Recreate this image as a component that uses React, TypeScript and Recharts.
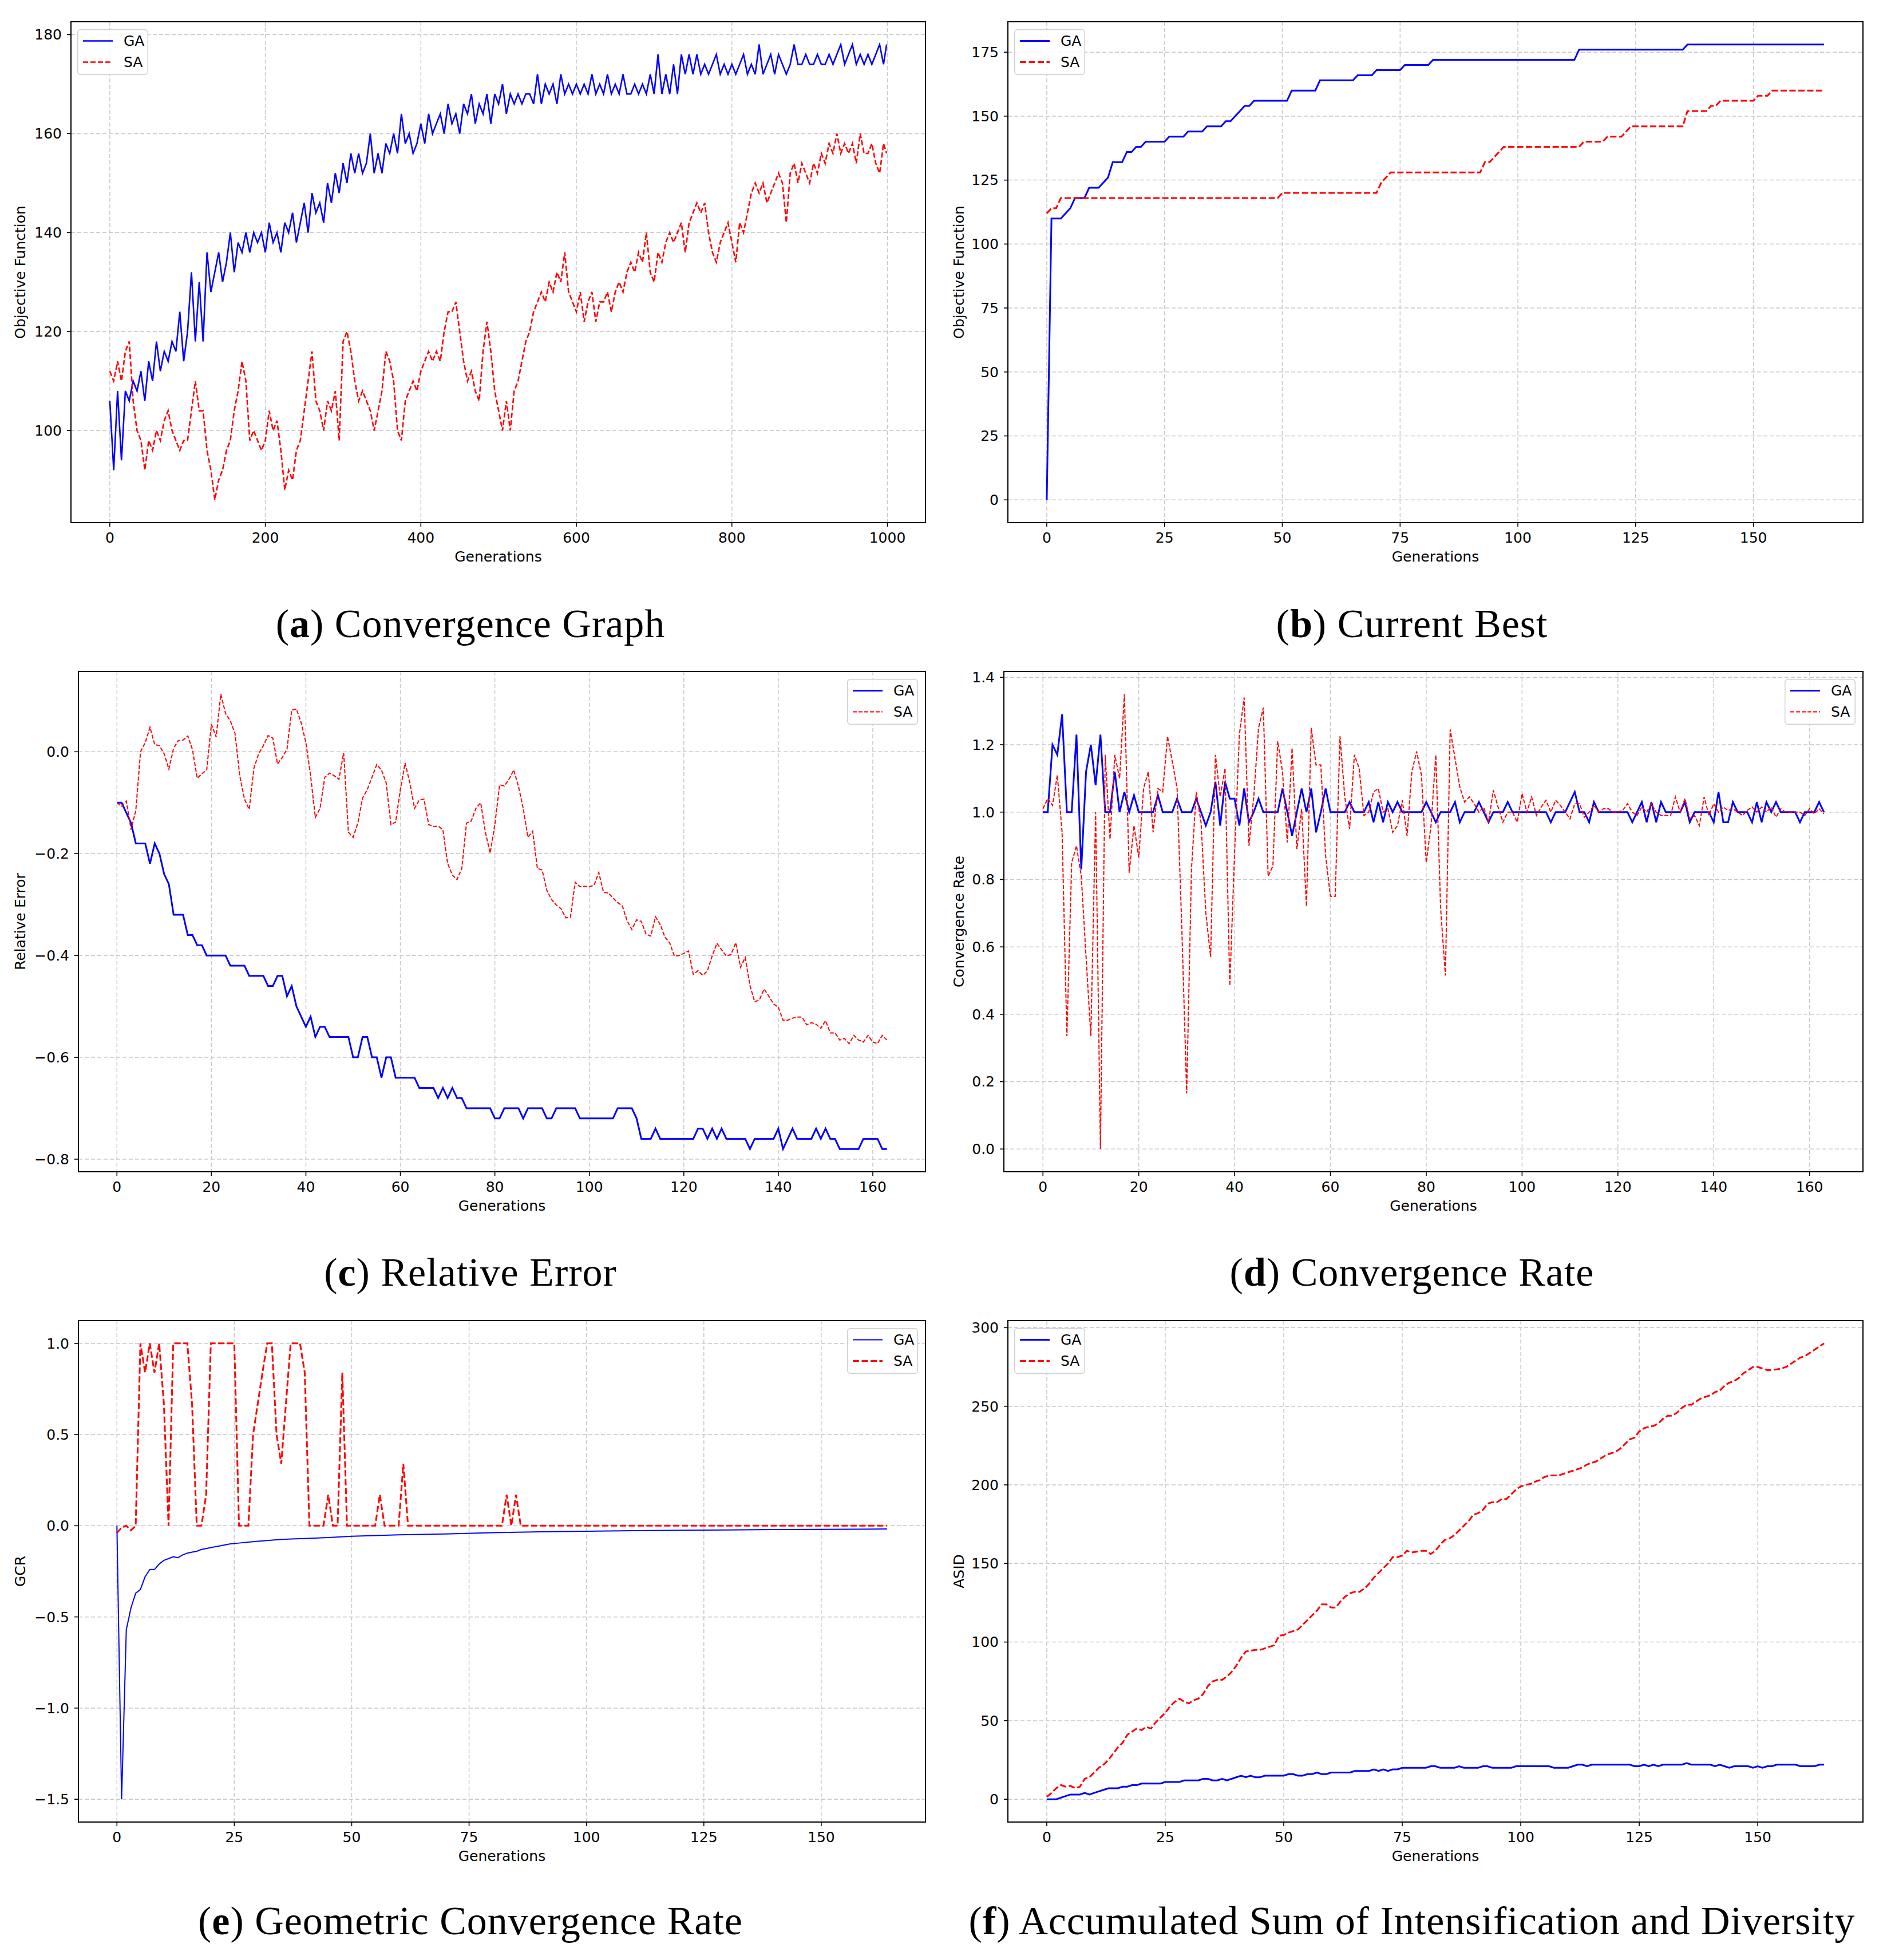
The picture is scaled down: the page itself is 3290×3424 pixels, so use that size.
import { CartesianGrid, Line, LineChart, ReferenceArea, XAxis, YAxis } from 'recharts';

// ---------- data ----------

// (a) Convergence graph, sampled every 5 generations (last point is gen 999)
const A_GENS = Array.from({ length: 200 }, (_, i) => i * 5).concat(999);
const A_GA = [
  106, 92, 108, 94, 108, 106, 110, 108, 112, 106,
  114, 110, 118, 112, 116, 114, 118, 116, 124, 114,
  120, 132, 118, 130, 118, 136, 128, 132, 136, 130,
  134, 140, 132, 138, 136, 140, 136, 140, 138, 140,
  136, 142, 138, 140, 136, 142, 140, 144, 138, 142,
  146, 140, 148, 144, 146, 142, 150, 146, 152, 148,
  154, 150, 156, 152, 156, 152, 154, 160, 152, 156,
  152, 158, 156, 160, 156, 164, 158, 160, 156, 158,
  162, 158, 164, 160, 162, 164, 160, 166, 162, 164,
  160, 166, 164, 168, 162, 166, 164, 168, 162, 168,
  166, 170, 164, 168, 166, 168, 166, 168, 168, 166,
  172, 166, 170, 168, 170, 166, 172, 168, 170, 168,
  170, 168, 170, 168, 172, 168, 170, 168, 172, 168,
  170, 168, 172, 168, 168, 170, 168, 170, 168, 172,
  168, 176, 168, 172, 168, 174, 168, 176, 172, 176,
  172, 176, 172, 174, 172, 174, 176, 172, 174, 172,
  174, 172, 174, 176, 172, 174, 172, 178, 172, 174,
  176, 172, 176, 174, 172, 174, 178, 174, 174, 176,
  174, 174, 176, 174, 174, 176, 174, 176, 178, 174,
  176, 178, 174, 176, 174, 176, 174, 176, 178, 174,
  178,
];
const A_SA = [
  112, 110, 114, 110, 116, 118, 106, 100, 98, 92,
  98, 96, 100, 98, 102, 104, 100, 98, 96, 98,
  98, 104, 110, 104, 104, 96, 92, 86, 90, 92,
  96, 98, 104, 108, 114, 110, 98, 100, 98, 96,
  98, 104, 100, 102, 96, 88, 92, 90, 96, 98,
  104, 110, 116, 106, 104, 100, 106, 104, 108, 98,
  118, 120, 116, 110, 106, 108, 106, 104, 100, 104,
  108, 116, 114, 110, 100, 98, 106, 108, 110, 108,
  112, 114, 116, 114, 116, 114, 120, 124, 124, 126,
  120, 114, 110, 112, 108, 106, 116, 122, 116, 108,
  104, 100, 106, 100, 108, 110, 114, 118, 120, 124,
  126, 128, 126, 130, 128, 132, 130, 136, 128, 126,
  124, 128, 122, 126, 128, 122, 126, 126, 128, 124,
  128, 130, 128, 132, 134, 132, 136, 134, 140, 132,
  130, 136, 134, 138, 140, 138, 140, 142, 136, 142,
  144, 146, 144, 146, 140, 136, 134, 138, 140, 142,
  138, 134, 142, 140, 144, 148, 150, 148, 150, 146,
  148, 150, 152, 150, 142, 152, 154, 150, 154, 152,
  150, 154, 152, 156, 154, 158, 156, 160, 156, 158,
  156, 158, 154, 160, 156, 156, 158, 154, 152, 158,
  156,
];

// (b) Current best: generations where the curve changes, and its values there
const B_GA_GENS = [0, 1, 3, 5, 6, 8, 9, 11, 13, 14, 16, 17, 18, 19, 20, 21, 25, 26, 29, 30, 33, 34, 37, 38, 39, 41, 42, 43, 44, 51, 52, 57, 58, 65, 66, 69, 70, 75, 76, 81, 82, 112, 113, 135, 136, 165];
const B_GA = [0, 110, 110, 114, 118, 118, 122, 122, 126, 132, 132, 136, 136, 138, 138, 140, 140, 142, 142, 144, 144, 146, 146, 148, 148, 152, 154, 154, 156, 156, 160, 160, 164, 164, 166, 166, 168, 168, 170, 170, 172, 172, 176, 176, 178, 178];
const B_SA_GENS = [0, 1, 2, 3, 49, 50, 70, 71, 72, 73, 92, 93, 94, 95, 96, 97, 113, 114, 118, 119, 122, 123, 124, 135, 136, 140, 141, 142, 143, 150, 151, 153, 154, 165];
const B_SA = [112, 114, 114, 118, 118, 120, 120, 124, 126, 128, 128, 132, 132, 134, 136, 138, 138, 140, 140, 142, 142, 144, 146, 146, 152, 152, 154, 154, 156, 156, 158, 158, 160, 160];

// (c) Relative error, one value per generation
const C_GA = [
  -0.1, -0.1, -0.12, -0.14, -0.18, -0.18, -0.18, -0.22, -0.18, -0.2,
  -0.24, -0.26, -0.32, -0.32, -0.32, -0.36, -0.36, -0.38, -0.38, -0.4,
  -0.4, -0.4, -0.4, -0.4, -0.42, -0.42, -0.42, -0.42, -0.44, -0.44,
  -0.44, -0.44, -0.46, -0.46, -0.44, -0.44, -0.48, -0.46, -0.5, -0.52,
  -0.54, -0.52, -0.56, -0.54, -0.54, -0.56, -0.56, -0.56, -0.56, -0.56,
  -0.6, -0.6, -0.56, -0.56, -0.6, -0.6, -0.64, -0.6, -0.6, -0.64,
  -0.64, -0.64, -0.64, -0.64, -0.66, -0.66, -0.66, -0.66, -0.68, -0.66,
  -0.68, -0.66, -0.68, -0.68, -0.7, -0.7, -0.7, -0.7, -0.7, -0.7,
  -0.72, -0.72, -0.7, -0.7, -0.7, -0.7, -0.72, -0.7, -0.7, -0.7,
  -0.7, -0.72, -0.72, -0.7, -0.7, -0.7, -0.7, -0.7, -0.72, -0.72,
  -0.72, -0.72, -0.72, -0.72, -0.72, -0.72, -0.7, -0.7, -0.7, -0.7,
  -0.72, -0.76, -0.76, -0.76, -0.74, -0.76, -0.76, -0.76, -0.76, -0.76,
  -0.76, -0.76, -0.76, -0.74, -0.74, -0.76, -0.74, -0.76, -0.74, -0.76,
  -0.76, -0.76, -0.76, -0.76, -0.78, -0.76, -0.76, -0.76, -0.76, -0.76,
  -0.74, -0.78, -0.76, -0.74, -0.76, -0.76, -0.76, -0.76, -0.74, -0.76,
  -0.74, -0.76, -0.76, -0.78, -0.78, -0.78, -0.78, -0.78, -0.76, -0.76,
  -0.76, -0.76, -0.78, -0.78,
];
const C_SA = [
  -0.1, -0.107, -0.097, -0.153, -0.115, 0.0, 0.018, 0.048, 0.014, 0.012,
  -0.004, -0.034, 0.007, 0.022, 0.023, 0.031, 0.004, -0.052, -0.043, -0.036,
  0.054, 0.029, 0.113, 0.075, 0.061, 0.036, -0.047, -0.093, -0.113, -0.032,
  -0.004, 0.012, 0.032, 0.027, -0.024, -0.011, 0.005, 0.082, 0.084, 0.057,
  0.018, -0.047, -0.129, -0.111, -0.05, -0.042, -0.047, -0.054, -0.002, -0.158,
  -0.168, -0.14, -0.091, -0.074, -0.05, -0.025, -0.036, -0.061, -0.143, -0.138,
  -0.074, -0.022, -0.061, -0.111, -0.095, -0.093, -0.143, -0.147, -0.146, -0.153,
  -0.219, -0.242, -0.251, -0.229, -0.14, -0.136, -0.111, -0.1, -0.158, -0.199,
  -0.143, -0.065, -0.067, -0.054, -0.036, -0.068, -0.111, -0.168, -0.156, -0.229,
  -0.232, -0.272, -0.29, -0.301, -0.308, -0.326, -0.325, -0.256, -0.265, -0.264,
  -0.265, -0.262, -0.237, -0.276, -0.277, -0.287, -0.296, -0.303, -0.332, -0.349,
  -0.33, -0.333, -0.358, -0.362, -0.324, -0.339, -0.364, -0.375, -0.401, -0.4,
  -0.396, -0.391, -0.437, -0.43, -0.439, -0.43, -0.401, -0.376, -0.389, -0.401,
  -0.398, -0.375, -0.423, -0.404, -0.459, -0.491, -0.487, -0.466, -0.48, -0.495,
  -0.502, -0.527, -0.527, -0.523, -0.521, -0.521, -0.536, -0.532, -0.535, -0.543,
  -0.528, -0.552, -0.552, -0.566, -0.563, -0.573, -0.557, -0.566, -0.57, -0.557,
  -0.57, -0.573, -0.557, -0.566,
];

// (d) Convergence rate, one value per generation
const D_GA = [
  1.0, 1.0, 1.2, 1.17, 1.29, 1.0, 1.0, 1.23, 0.83, 1.12,
  1.2, 1.08, 1.23, 1.0, 1.0, 1.12, 1.0, 1.06, 1.0, 1.05,
  1.0, 1.0, 1.0, 1.0, 1.05, 1.0, 1.0, 1.0, 1.04, 1.0,
  1.0, 1.0, 1.04, 1.0, 0.96, 1.0, 1.09, 0.96, 1.09, 1.04,
  1.04, 0.96, 1.07, 0.97, 1.0, 1.04, 1.0, 1.0, 1.0, 1.0,
  1.07, 1.0, 0.93, 1.0, 1.07, 1.0, 1.07, 0.94, 1.0, 1.07,
  1.0, 1.0, 1.0, 1.0, 1.03, 1.0, 1.0, 1.0, 1.03, 0.97,
  1.03, 0.97, 1.03, 1.0, 1.03, 1.0, 1.0, 1.0, 1.0, 1.0,
  1.03, 1.0, 0.97, 1.0, 1.0, 1.0, 1.03, 0.97, 1.0, 1.0,
  1.0, 1.03, 1.0, 0.97, 1.0, 1.0, 1.0, 1.03, 1.0, 1.0,
  1.0, 1.0, 1.0, 1.0, 1.0, 1.0, 0.97, 1.0, 1.0, 1.0,
  1.03, 1.06, 1.0, 1.0, 0.97, 1.03, 1.0, 1.0, 1.0, 1.0,
  1.0, 1.0, 1.0, 0.97, 1.0, 1.03, 0.97, 1.03, 0.97, 1.03,
  1.0, 1.0, 1.0, 1.0, 1.03, 0.97, 1.0, 1.0, 1.0, 1.0,
  0.97, 1.06, 0.97, 0.97, 1.03, 1.0, 1.0, 1.0, 0.97, 1.03,
  0.97, 1.03, 1.0, 1.03, 1.0, 1.0, 1.0, 1.0, 0.97, 1.0,
  1.0, 1.0, 1.03, 1.0,
];
const D_SA = [
  1.01, 1.04, 1.02, 1.11, 0.94, 0.335, 0.85, 0.9, 0.81, 0.57,
  0.335, 1.0, 0.0, 1.17, 0.92, 1.17, 1.1, 1.35, 0.82, 0.96,
  0.865, 1.07, 1.12, 0.94, 1.07, 1.06, 1.225, 1.15, 1.07, 0.65,
  0.165, 0.83, 1.06, 0.97, 0.7, 0.57, 1.17, 1.045, 1.13, 0.485,
  0.88, 1.23, 1.34, 0.9, 1.045, 1.25, 1.31, 0.81, 0.84, 1.21,
  1.12, 0.91, 1.19, 0.89, 1.01, 0.72, 1.25, 1.14, 1.14, 0.87,
  0.75, 0.75, 1.225, 1.045, 0.95, 1.17, 1.13, 0.99, 1.0, 1.06,
  1.07, 1.0, 1.01, 0.94, 0.96, 1.035, 0.93, 1.12, 1.18, 1.11,
  0.85, 0.96, 1.17, 0.715, 0.515, 1.245, 1.16, 1.075, 1.03, 1.045,
  1.025, 1.0, 1.015, 0.97, 1.065, 1.015, 0.97, 1.0, 1.0, 0.97,
  1.055, 1.0, 1.045, 0.99, 1.015, 1.035, 1.0, 1.035, 1.02, 1.0,
  0.98, 1.025, 1.025, 0.985, 1.0, 1.02, 1.0, 1.01, 1.01, 1.0,
  1.0, 1.005, 1.025, 1.0, 0.99, 1.015, 1.0, 1.025, 1.0, 0.99,
  0.99, 0.99, 1.045, 1.0, 1.04, 0.98, 0.99, 0.96, 1.045, 0.99,
  1.025, 1.0, 1.015, 1.005, 1.01, 1.0, 0.99, 1.005, 1.015, 1.0,
  1.015, 1.0, 1.015, 0.985, 1.01, 1.0, 1.0, 1.0, 1.0, 0.99,
  1.01, 0.995, 1.01, 0.995,
];

// (e) Geometric convergence rate
const E_GA_GENS = [0, 1, 2, 3, 4, 5, 6, 7, 8, 9, 10, 11, 12, 13, 14, 15, 16, 17, 18, 19, 20, 22, 24, 26, 28, 30, 35, 40, 45, 50, 60, 70, 80, 90, 100, 110, 120, 130, 140, 150, 164];
const E_GA = [0, -1.5, -0.57, -0.45, -0.37, -0.35, -0.28, -0.24, -0.24, -0.21, -0.19, -0.18, -0.17, -0.175, -0.16, -0.15, -0.145, -0.14, -0.13, -0.125, -0.12, -0.11, -0.1, -0.095, -0.09, -0.085, -0.075, -0.07, -0.065, -0.058, -0.05, -0.045, -0.038, -0.033, -0.03, -0.027, -0.025, -0.023, -0.021, -0.02, -0.018];
// SA: one value per generation up to 89, then it stays at 0 until the last generation
const E_SA = [
  -0.04, -0.01, 0.0, -0.025, 0.0, 1.0, 0.84, 1.0, 0.84, 1.0,
  0.67, 0.0, 1.0, 1.0, 1.0, 1.0, 0.67, 0.0, 0.0, 0.17,
  1.0, 1.0, 1.0, 1.0, 1.0, 1.0, 0.0, 0.0, 0.0, 0.5,
  0.67, 0.84, 1.0, 1.0, 0.5, 0.34, 0.67, 1.0, 1.0, 1.0,
  0.84, 0.0, 0.0, 0.0, 0.0, 0.17, 0.0, 0.0, 0.84, 0.0,
  0.0, 0.0, 0.0, 0.0, 0.0, 0.0, 0.17, 0.0, 0.0, 0.0,
  0.0, 0.34, 0.0, 0.0, 0.0, 0.0, 0.0, 0.0, 0.0, 0.0,
  0.0, 0.0, 0.0, 0.0, 0.0, 0.0, 0.0, 0.0, 0.0, 0.0,
  0.0, 0.0, 0.0, 0.17, 0.0, 0.17, 0.0, 0.0, 0.0, 0.0,
];
const E_SA_LAST_GEN = 164;
const E_SA_LAST = 0.0;

// (f) Accumulated sum of intensification and diversity, one value per generation
const F_GA = [
  0, 0, 0, 1, 2, 3, 3, 3, 4, 3,
  4, 5, 6, 7, 7, 7, 8, 8, 9, 9,
  10, 10, 10, 10, 10, 11, 11, 11, 11, 12,
  12, 12, 12, 13, 13, 12, 12, 13, 12, 13,
  14, 15, 14, 15, 14, 14, 15, 15, 15, 15,
  15, 16, 16, 15, 15, 16, 16, 17, 16, 16,
  17, 17, 17, 17, 17, 18, 18, 18, 18, 19,
  18, 19, 18, 19, 19, 20, 20, 20, 20, 20,
  20, 21, 21, 20, 20, 20, 20, 21, 20, 20,
  20, 20, 21, 21, 20, 20, 20, 20, 20, 21,
  21, 21, 21, 21, 21, 21, 21, 20, 20, 20,
  20, 21, 22, 22, 21, 22, 22, 22, 22, 22,
  22, 22, 22, 22, 21, 21, 22, 21, 22, 21,
  22, 22, 22, 22, 22, 23, 22, 22, 22, 22,
  22, 21, 22, 21, 20, 21, 21, 21, 21, 20,
  21, 20, 21, 21, 22, 22, 22, 22, 22, 21,
  21, 21, 21, 22, 22,
];
const F_SA = [
  1.5, 4, 7, 9, 8, 8.5, 7, 8, 13, 14,
  17, 20, 22, 25, 29, 33, 36, 41, 43, 45,
  44, 46, 45, 49, 52, 55, 59, 62, 64, 62,
  61, 63, 64, 67, 72, 75, 76, 76, 78, 81,
  85, 90, 94, 94.5, 95, 95, 96, 97, 98, 104,
  104.5, 106, 107, 108, 111, 114, 117, 120, 124, 124,
  122, 122, 126, 129, 131, 132, 132, 134, 137, 141,
  144, 147, 150, 154, 154, 155, 158, 157, 157.5, 158,
  158, 156, 158, 162, 165, 166, 168, 171, 174, 177,
  181, 182, 184, 188, 189, 189, 191, 191, 194, 197,
  199, 200, 200.5, 202, 203, 205, 206, 206, 206, 207,
  208, 209, 210, 211, 213, 214, 215, 217, 219, 220,
  221, 223, 226, 229, 230, 234, 236, 237, 237.5, 239,
  242, 244, 244, 246, 249, 251, 251, 253, 255, 256,
  257, 259, 260, 263, 265, 266, 268, 271, 273, 275,
  275, 274, 273, 273, 273.5, 274, 275, 277, 279, 281,
  282, 284, 286, 288, 290,
];

// tick labels
const A_XTICKS = [0, 200, 400, 600, 800, 1000];
const A_YTICKS = [100, 120, 140, 160, 180];
const B_XTICKS = [0, 25, 50, 75, 100, 125, 150];
const B_YTICKS = [0, 25, 50, 75, 100, 125, 150, 175];
const C_XTICKS = [0, 20, 40, 60, 80, 100, 120, 140, 160];
const C_YTICKS = [-0.8, -0.6, -0.4, -0.2, 0.0];
const D_YTICKS = [0.0, 0.2, 0.4, 0.6, 0.8, 1.0, 1.2, 1.4];
const E_YTICKS = [-1.5, -1.0, -0.5, 0.0, 0.5, 1.0];
const F_YTICKS = [0, 50, 100, 150, 200, 250, 300];

// ---------- helpers ----------

type Row = { x: number; y: number };

function rows(gens: number[], values: number[]): Row[] {
  return gens.map((x, i) => ({ x, y: values[i] }));
}

function byGeneration(values: number[]): Row[] {
  return values.map((y, x) => ({ x, y }));
}

const intLabel = (v: number) => String(Math.round(v)).replace('-', '\u2212');
const oneDecimal = (v: number) => {
  const s = (Math.abs(v) < 1e-9 ? 0 : v).toFixed(1);
  return s.replace('-', '\u2212');
};

const FONT = "'DejaVu Sans', sans-serif";
const GRID = '#c8c8c8';

type Series = {
  name: string;
  data: Row[];
  color: string;
  width: number;
  dash?: string;
};

type PanelProps = {
  colLeft: number;
  left: number;
  right: number;
  top: number;
  bottom: number;
  xDomain: [number, number];
  yDomain: [number, number];
  xTicks: number[];
  yTicks: number[];
  yFormat: (v: number) => string;
  yLabel: string;
  series: Series[];
  legendSide: 'left' | 'right';
};

function LegendBox({ series }: { series: Series[] }) {
  return (
    <svg width={124} height={80} style={{ display: 'block' }}>
      <rect x={0.75} y={0.75} width={122.5} height={78.5} rx={5} fill="rgba(255,255,255,0.85)" stroke="#d0d0d0" strokeWidth={1.5} />
      {series.map((s, i) => {
        const cy = 20.5 + i * 37;
        return (
          <g key={s.name}>
            <line x1={10} x2={62} y1={cy} y2={cy} stroke={s.color} strokeWidth={s.width} strokeDasharray={s.dash} />
            <text x={81} y={cy} dominantBaseline="central" fontSize={25} fontFamily={FONT} fill="#000">
              {s.name}
            </text>
          </g>
        );
      })}
    </svg>
  );
}

function Panel(p: PanelProps) {
  const mt = 20;
  const mr = 20;
  const xh = 100;
  const yw = p.left - p.colLeft;
  const width = p.right - p.colLeft + mr;
  const height = p.bottom - p.top + mt + xh;
  const tick = { fontSize: 25, fill: '#000', fontFamily: FONT };

  return (
    <div style={{ position: 'absolute', left: p.colLeft, top: p.top - mt, width, height }}>
      <LineChart width={width} height={height} margin={{ top: mt, right: mr, bottom: 0, left: 0 }}>
        <CartesianGrid stroke={GRID} strokeWidth={1.5} strokeDasharray="7 4" />
        <XAxis
          type="number"
          dataKey="x"
          domain={p.xDomain}
          ticks={p.xTicks}
          allowDataOverflow
          interval={0}
          height={xh}
          tickSize={7}
          tickMargin={10}
          tick={tick}
          tickFormatter={intLabel}
          axisLine={false}
          tickLine={{ stroke: '#000', strokeWidth: 1.6 }}
          label={{ value: 'Generations', position: 'insideBottom', offset: 32, fill: '#000', fontSize: 25, fontFamily: FONT }}
        />
        <YAxis
          type="number"
          domain={p.yDomain}
          ticks={p.yTicks}
          allowDataOverflow
          interval={0}
          width={yw}
          tickSize={7}
          tickMargin={9}
          tick={tick}
          tickFormatter={p.yFormat}
          axisLine={false}
          tickLine={{ stroke: '#000', strokeWidth: 1.6 }}
          label={{
            value: p.yLabel,
            angle: -90,
            position: 'insideLeft',
            offset: 35,
            fill: '#000',
            fontSize: 25,
            fontFamily: FONT,
            style: { textAnchor: 'middle' },
          }}
        />
        {p.series.map((s) => (
          <Line
            key={s.name}
            data={s.data}
            dataKey="y"
            name={s.name}
            type="linear"
            stroke={s.color}
            strokeWidth={s.width}
            strokeDasharray={s.dash}
            dot={false}
            activeDot={false}
            isAnimationActive={false}
          />
        ))}
        <ReferenceArea
          x1={p.xDomain[0]}
          x2={p.xDomain[1]}
          y1={p.yDomain[0]}
          y2={p.yDomain[1]}
          fill="none"
          fillOpacity={0}
          stroke="#000"
          strokeWidth={2}
        />
      </LineChart>
      <div
        style={
          p.legendSide === 'left'
            ? { position: 'absolute', left: yw + 11, top: mt + 13 }
            : { position: 'absolute', right: mr + 13, top: mt + 13 }
        }
      >
        <LegendBox series={p.series} />
      </div>
    </div>
  );
}

function Caption({ letter, text, center, baseline }: { letter: string; text: string; center: number; baseline: number }) {
  const size = 70;
  return (
    <div
      style={{
        position: 'absolute',
        left: center - 900,
        width: 1800,
        top: baseline - Math.round(size * 0.8375),
        textAlign: 'center',
        fontFamily: "'Liberation Serif', 'DejaVu Serif', serif",
        fontSize: size,
        letterSpacing: 1,
        lineHeight: 1,
        color: '#000',
        whiteSpace: 'nowrap',
      }}
    >
      (<b>{letter}</b>) {text}
    </div>
  );
}

const BLUE = '#0000ff';
const RED = '#ff0000';

export default function App() {
  const ga = (data: Row[], width: number): Series => ({ name: 'GA', data, color: BLUE, width });
  const sa = (data: Row[], width: number, dash: string): Series => ({ name: 'SA', data, color: RED, width, dash });

  return (
    <div style={{ position: 'absolute', left: 0, top: 0, width: 3290, height: 3424, background: '#fff', overflow: 'hidden' }}>
      <style>{'body{margin:0}'}</style>

      <Panel
        colLeft={0}
        left={124}
        right={1617}
        top={38}
        bottom={913}
        xDomain={[-49.95, 1048.95]}
        yDomain={[81.4, 182.6]}
        xTicks={A_XTICKS}
        yTicks={A_YTICKS}
        yFormat={intLabel}
        yLabel="Objective Function"
        series={[ga(rows(A_GENS, A_GA), 2.6), sa(rows(A_GENS, A_SA), 2.6, '9 4')]}
        legendSide="left"
      />
      <Panel
        colLeft={1640}
        left={1761}
        right={3255}
        top={38}
        bottom={913}
        xDomain={[-8.25, 173.25]}
        yDomain={[-8.9, 186.9]}
        xTicks={B_XTICKS}
        yTicks={B_YTICKS}
        yFormat={intLabel}
        yLabel="Objective Function"
        series={[ga(rows(B_GA_GENS, B_GA), 3), sa(rows(B_SA_GENS, B_SA), 3, '11 4.5')]}
        legendSide="left"
      />
      <Panel
        colLeft={0}
        left={137}
        right={1617}
        top={1173}
        bottom={2047}
        xDomain={[-8.15, 171.15]}
        yDomain={[-0.8247, 0.1577]}
        xTicks={C_XTICKS}
        yTicks={C_YTICKS}
        yFormat={oneDecimal}
        yLabel="Relative Error"
        series={[ga(byGeneration(C_GA), 3), sa(byGeneration(C_SA), 2, '7 3')]}
        legendSide="right"
      />
      <Panel
        colLeft={1640}
        left={1754}
        right={3255}
        top={1173}
        bottom={2047}
        xDomain={[-8.15, 171.15]}
        yDomain={[-0.0675, 1.4175]}
        xTicks={C_XTICKS}
        yTicks={D_YTICKS}
        yFormat={oneDecimal}
        yLabel="Convergence Rate"
        series={[ga(byGeneration(D_GA), 3), sa(byGeneration(D_SA), 2, '7 3')]}
        legendSide="right"
      />
      <Panel
        colLeft={0}
        left={137}
        right={1617}
        top={2307}
        bottom={3183}
        xDomain={[-8.2, 172.2]}
        yDomain={[-1.625, 1.125]}
        xTicks={B_XTICKS}
        yTicks={E_YTICKS}
        yFormat={oneDecimal}
        yLabel="GCR"
        series={[
          ga(rows(E_GA_GENS, E_GA), 2),
          sa(byGeneration(E_SA).concat([{ x: E_SA_LAST_GEN, y: E_SA_LAST }]), 3, '11 4.5'),
        ]}
        legendSide="right"
      />
      <Panel
        colLeft={1640}
        left={1761}
        right={3255}
        top={2307}
        bottom={3183}
        xDomain={[-8.2, 172.2]}
        yDomain={[-14.5, 304.5]}
        xTicks={B_XTICKS}
        yTicks={F_YTICKS}
        yFormat={intLabel}
        yLabel="ASID"
        series={[ga(byGeneration(F_GA), 3), sa(byGeneration(F_SA), 3, '11 4.5')]}
        legendSide="left"
      />

      <Caption letter="a" text="Convergence Graph" center={822} baseline={1114} />
      <Caption letter="b" text="Current Best" center={2467} baseline={1114} />
      <Caption letter="c" text="Relative Error" center={822} baseline={2247} />
      <Caption letter="d" text="Convergence Rate" center={2467} baseline={2247} />
      <Caption letter="e" text="Geometric Convergence Rate" center={822} baseline={3380} />
      <Caption letter="f" text="Accumulated Sum of Intensification and Diversity" center={2467} baseline={3380} />
    </div>
  );
}
